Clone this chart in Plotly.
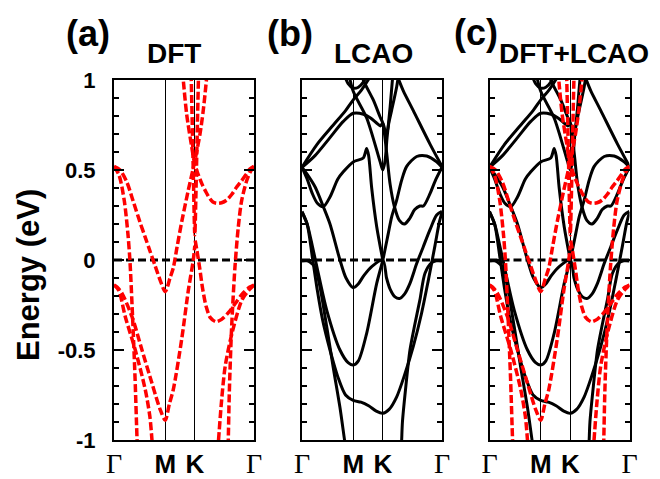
import plotly.graph_objects as go

# ---------------- k-path (Gamma - M - K - Gamma, in units of |Gamma-M|) -------------
PATH_TICKS = [0.0, 1.0, 1.577, 2.732]
PATH_LABELS = ["Γ", "M", "K", "Γ"]
E_RANGE = [-1.0, 1.0]
FERMI_E = 0.0

# ---------------- DFT bands (red dashed) ----------------
DFT_A_K = [0, 0.117, 0.254, 0.371, 0.507, 0.605, 0.702, 0.8, 0.898, 1.0, 1.093, 1.157, 1.229, 1.327, 1.444, 1.577, 1.678, 1.737, 1.776, 1.81]
DFT_A_E = [0.52, 0.50, 0.43, 0.33, 0.21, 0.13, 0.05, -0.03, -0.11, -0.176, -0.10, -0.044, 0.07, 0.22, 0.38, 0.55, 0.70, 0.82, 0.92, 1.02]

DFT_B_K = [0, 0.1, 0.2, 0.27, 0.31, 0.36, 0.41, 0.45, 0.47]
DFT_B_E = [0.52, 0.47, 0.33, 0.15, 0.0, -0.3, -0.65, -1.0, -1.15]

DFT_C_K = [0, 0.06, 0.156, 0.351, 0.546, 0.741, 0.9, 1.0, 1.08, 1.157, 1.321, 1.45, 1.547, 1.577]
DFT_C_E = [-0.139, -0.15, -0.185, -0.315, -0.5, -0.685, -0.83, -0.89, -0.80, -0.72, -0.44, -0.17, 0.0, 0.08]

DFT_D_K = [0, 0.09, 0.22, 0.415, 0.61, 0.70, 0.741, 0.76]
DFT_D_E = [-0.139, -0.167, -0.315, -0.5, -0.72, -0.87, -1.0, -1.08]

DFT_E_K = [2.732, 2.65, 2.589, 2.49, 2.394, 2.3, 2.199, 2.1, 2.01, 1.93, 1.873, 1.8, 1.72, 1.65, 1.577, 1.516, 1.418, 1.352, 1.33]
DFT_E_E = [0.52, 0.505, 0.48, 0.44, 0.405, 0.365, 0.333, 0.318, 0.315, 0.322, 0.34, 0.375, 0.42, 0.47, 0.53, 0.63, 0.81, 1.0, 1.07]

DFT_F_K = [2.732, 2.65, 2.5, 2.37, 2.24, 2.1, 1.99, 1.88, 1.80, 1.73, 1.67, 1.62, 1.577]
DFT_F_E = [-0.139, -0.15, -0.19, -0.24, -0.29, -0.33, -0.343, -0.32, -0.26, -0.16, -0.04, 0.05, 0.12]

DFT_G_K = [2.732, 2.66, 2.589, 2.491, 2.426, 2.361, 2.296, 2.25, 2.23, 2.22]
DFT_G_E = [0.52, 0.49, 0.44, 0.33, 0.185, -0.037, -0.37, -0.74, -1.0, -1.1]

DFT_H_K = [2.732, 2.64, 2.5, 2.3, 2.17, 2.1, 2.04, 2.02]
DFT_H_E = [-0.139, -0.165, -0.22, -0.41, -0.59, -0.78, -1.0, -1.08]

DFT_U_K = [1.50, 1.53, 1.555, 1.577, 1.60, 1.625, 1.655]
DFT_U_E = [1.1, 0.72, 0.38, 0.14, 0.38, 0.72, 1.1]

# ---------------- LCAO bands (black solid) ----------------
LC_1_K = [0, 0.092, 0.254, 0.416, 0.546, 0.741, 0.859, 1.0, 1.093, 1.21, 1.366, 1.577, 1.65, 1.717, 1.815, 1.912, 2.0, 2.107, 2.238, 2.367, 2.5, 2.628, 2.732]
LC_1_E = [0.515, 0.48, 0.407, 0.296, 0.2, 0.0, -0.1, -0.154, -0.135, -0.085, -0.035, 0.0, -0.1, -0.16, -0.205, -0.213, -0.19, -0.13, -0.02, 0.074, 0.17, 0.25, 0.27]

LC_2_K = [0, 0.1, 0.2, 0.3, 0.482, 0.741, 0.9, 1.0, 1.1, 1.262, 1.458, 1.577, 1.684, 1.75, 1.848, 1.945, 2.043, 2.238, 2.433, 2.628, 2.732]
LC_2_E = [0.27, 0.2, 0.08, -0.05, -0.278, -0.5, -0.57, -0.583, -0.56, -0.407, -0.13, 0.0, 0.148, 0.24, 0.333, 0.444, 0.52, 0.575, 0.578, 0.545, 0.515]

LC_3_K = [0, 0.1, 0.2, 0.3, 0.4, 0.546, 0.7, 0.85, 1.0, 1.15, 1.3, 1.45, 1.577, 1.7, 1.848, 2.0, 2.172, 2.33, 2.46, 2.595, 2.68, 2.732]
LC_3_E = [0.265, 0.2, 0.02, -0.17, -0.33, -0.5, -0.65, -0.75, -0.78, -0.79, -0.81, -0.84, -0.852, -0.83, -0.76, -0.64, -0.48, -0.3, -0.12, 0.08, 0.21, 0.265]

LC_4_K = [0, 0.1, 0.16, 0.254, 0.351, 0.482, 0.611, 0.741, 0.83, 0.86]
LC_4_E = [-0.005, -0.005, -0.012, -0.04, -0.15, -0.37, -0.6, -0.82, -1.0, -1.06]

LC_5_K = [2.732, 2.62, 2.53, 2.4, 2.302, 2.2, 2.107, 2.02, 1.96, 1.945, 1.935]
LC_5_E = [-0.005, -0.005, -0.015, -0.074, -0.22, -0.36, -0.5, -0.72, -0.9, -1.0, -1.06]

LC_6_K = [0, 0.287, 0.611, 0.85, 1.0, 1.16, 1.29, 1.35]
LC_6_E = [0.515, 0.64, 0.75, 0.83, 0.89, 0.944, 1.0, 1.03]

LC_7_K = [0, 0.254, 0.546, 0.806, 1.0, 1.2, 1.33, 1.46, 1.53, 1.577, 1.62, 1.653, 1.70, 1.75, 1.848, 1.88]
LC_7_E = [0.515, 0.58, 0.68, 0.77, 0.815, 0.81, 0.79, 0.76, 0.745, 0.76, 0.72, 0.705, 0.77, 0.833, 0.963, 1.02]

LC_8_K = [0, 0.1, 0.2, 0.3, 0.416, 0.546, 0.7, 0.806, 1.0, 1.196, 1.262, 1.30, 1.36, 1.458, 1.577]
LC_8_E = [0.515, 0.45, 0.37, 0.315, 0.296, 0.35, 0.45, 0.49, 0.545, 0.567, 0.62, 0.58, 0.40, 0.185, 0.0]

LC_9_K = [1.15, 1.196, 1.391, 1.522, 1.577, 1.65, 1.72, 1.8, 1.9, 2.0, 2.1, 2.2, 2.3, 2.37, 2.5, 2.6, 2.732]
LC_9_E = [1.06, 1.0, 0.889, 0.796, 0.76, 0.6, 0.42, 0.3, 0.22, 0.2, 0.23, 0.28, 0.30, 0.30, 0.37, 0.44, 0.515]

LC_10_K = [0.9, 1.0, 1.262, 1.522, 1.577, 1.62, 1.66, 1.72, 1.77]
LC_10_E = [1.05, 0.937, 0.789, 0.548, 0.5, 0.55, 0.68, 0.85, 1.02]

LC_11_K = [2.732, 2.498, 2.172, 1.977, 1.89, 1.85]
LC_11_E = [0.52, 0.644, 0.83, 0.94, 1.0, 1.03]

LC_12_K = [0.8, 0.9, 1.0, 1.1, 1.2, 1.3]
LC_12_E = [1.05, 0.98, 0.955, 0.96, 0.99, 1.05]

DFT_BANDS = [(DFT_A_K, DFT_A_E), (DFT_B_K, DFT_B_E), (DFT_C_K, DFT_C_E), (DFT_D_K, DFT_D_E),
             (DFT_E_K, DFT_E_E), (DFT_F_K, DFT_F_E), (DFT_G_K, DFT_G_E), (DFT_H_K, DFT_H_E),
             (DFT_U_K, DFT_U_E)]
LCAO_BANDS = [(LC_1_K, LC_1_E), (LC_2_K, LC_2_E), (LC_3_K, LC_3_E), (LC_4_K, LC_4_E),
              (LC_5_K, LC_5_E), (LC_6_K, LC_6_E), (LC_7_K, LC_7_E), (LC_8_K, LC_8_E),
              (LC_9_K, LC_9_E), (LC_10_K, LC_10_E), (LC_11_K, LC_11_E), (LC_12_K, LC_12_E)]

PANEL_TAGS = ["(a)", "(b)", "(c)"]
PANEL_TITLES = ["DFT", "LCAO", "DFT+LCAO"]

# ---------------- figure ----------------
W, H = 660, 479
fig = go.Figure()

RED = "#ff0000"
dft_line = dict(color=RED, width=3.5, dash="8px,3px", shape="spline", smoothing=0.8)
lcao_line = dict(color="black", width=3, shape="spline", smoothing=0.8)


def add_bands(bands, line, xa, ya):
    for ks, es in bands:
        fig.add_trace(go.Scatter(x=ks, y=es, mode="lines", line=line,
                                 xaxis=xa, yaxis=ya, showlegend=False, hoverinfo="skip"))


def add_fermi(xa, ya):
    fig.add_trace(go.Scatter(x=[PATH_TICKS[0], PATH_TICKS[-1]], y=[FERMI_E, FERMI_E], mode="lines",
                             line=dict(color="black", width=3, dash="8px,4px"),
                             xaxis=xa, yaxis=ya, showlegend=False, hoverinfo="skip"))


# panel a
add_fermi("x", "y")
add_bands(DFT_BANDS, dft_line, "x", "y")
# panel b
add_fermi("x2", "y2")
add_bands(LCAO_BANDS, lcao_line, "x2", "y2")
# panel c
add_fermi("x3", "y3")
add_bands(LCAO_BANDS, lcao_line, "x3", "y3")
add_bands(DFT_BANDS, dft_line, "x3", "y3")

# panel pixel boxes
panels_px = [(114, 254), (302, 442), (489.5, 629.5)]
y_top_px, y_bot_px = 80, 440
ydom = [1 - y_bot_px / H, 1 - y_top_px / H]

serif_g = '<span style="font-family:Liberation Serif;font-weight:normal;font-size:28px">Γ</span>'
xt_text = [serif_g if lab == "Γ" else lab for lab in PATH_LABELS]

layout = dict(width=W, height=H, margin=dict(l=0, r=0, t=0, b=0, autoexpand=False), autosize=False,
              paper_bgcolor="white", plot_bgcolor="white", showlegend=False)

for i, (x0, x1) in enumerate(panels_px):
    sfx = "" if i == 0 else str(i + 1)
    layout["xaxis" + sfx] = dict(
        domain=[x0 / W, x1 / W], range=[PATH_TICKS[0], PATH_TICKS[-1]],
        anchor="y" + sfx, tickmode="array", tickvals=PATH_TICKS, ticktext=xt_text,
        ticks="", showgrid=True, gridcolor="black", gridwidth=1, zeroline=False,
        showline=True, mirror=True, linecolor="black", linewidth=2, automargin=False,
        tickfont=dict(family="Liberation Sans", size=26, color="black", weight="bold"),
        ticklabelstandoff=0,
    )
    layout["yaxis" + sfx] = dict(
        domain=ydom, range=E_RANGE, anchor="x" + sfx, automargin=False,
        tickmode="array", tickvals=[-1, -0.5, 0, 0.5, 1],
        ticktext=["-1", "-0.5", "0", "0.5", "1"], showticklabels=(i == 0),
        ticks="inside", ticklen=10, tickwidth=1.5, tickcolor="black",
        minor=dict(dtick=0.1, ticks="inside", ticklen=5, tickwidth=1.5, tickcolor="black", showgrid=False),
        showgrid=False, zeroline=False, showline=True, mirror="ticks",
        linecolor="black", linewidth=2,
        tickfont=dict(family="Liberation Sans", size=22, color="black", weight="bold"),
        ticklabelstandoff=12,
    )

fig.update_layout(**layout)

tag_pos = [(88, 33), (290, 33), (476, 32)]
title_pos = [(174, 53), (373, 53), (574, 53)]
for (tx, ty), tag in zip(tag_pos, PANEL_TAGS):
    fig.add_annotation(x=tx / W, y=1 - ty / H, xref="paper", yref="paper", text=tag, showarrow=False,
                       font=dict(family="Liberation Sans", size=36, color="black", weight="bold"),
                       xanchor="center", yanchor="middle")
for (tx, ty), tt in zip(title_pos, PANEL_TITLES):
    fig.add_annotation(x=tx / W, y=1 - ty / H, xref="paper", yref="paper", text=tt, showarrow=False,
                       font=dict(family="Liberation Sans", size=28, color="black", weight="bold"),
                       xanchor="center", yanchor="middle")

fig.add_annotation(x=28 / W, y=1 - 275 / H, xref="paper", yref="paper", text="Energy (eV)",
                   textangle=-90, showarrow=False,
                   font=dict(family="Liberation Sans", size=31, color="black", weight="bold"),
                   xanchor="center", yanchor="middle")

fig.write_html("out.html", config={"displayModeBar": False},
               post_script="document.body.style.margin='0px';document.body.style.overflow='hidden';")
